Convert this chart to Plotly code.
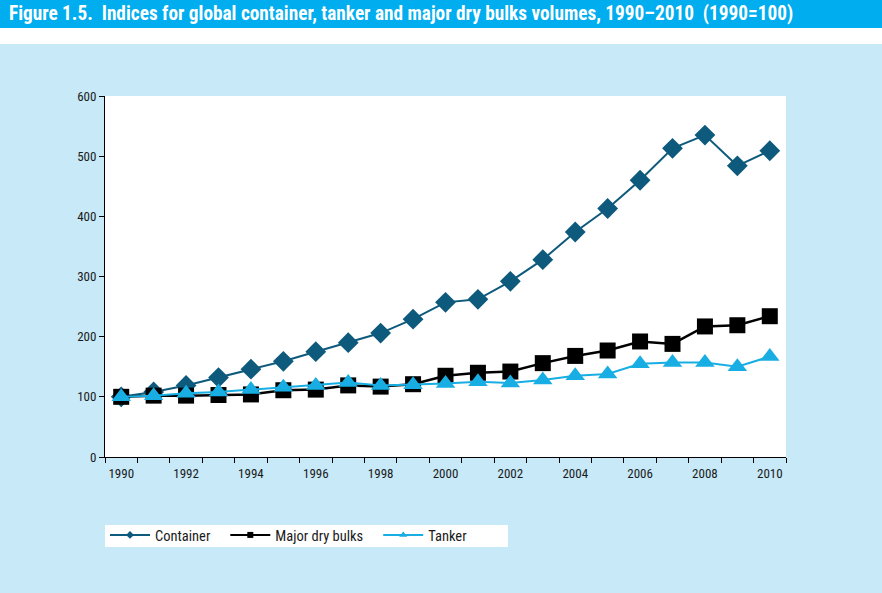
import plotly.graph_objects as go

years = list(range(1990, 2011))
container = [100, 108, 119, 132, 146, 159, 175, 190, 206, 229, 257, 262, 292, 328, 374, 413, 460, 513, 535, 484, 509]
dry_bulks = [100, 102, 102, 103, 104, 111, 112, 119, 117, 121, 135, 140, 142, 156, 168, 177, 192, 188, 217, 219, 234]
tanker = [100, 102, 106, 108, 112, 116, 119, 124, 119, 120, 122, 125, 123, 128, 135, 138, 155, 157, 157, 150, 167]
tick_years = list(range(1990, 2011, 2))
title_text = "Figure 1.5.  Indices for global container, tanker and major dry bulks volumes, 1990–2010  (1990=100)"

W, H = 882, 593
L, R, T, B = 105, 96, 96, 136
pw, ph = W - L - R, H - T - B

def px_x(p):
    return (p - L) / pw

def px_y(p):
    return (H - B - p) / ph

FONT = "Liberation Sans Narrow, Arial Narrow, Roboto Condensed, sans-serif"
C_CONT, C_BULK, C_TANK = "#0E5A7C", "#000000", "#19AEE3"

fig = go.Figure()
series = [
    ("Container", container, C_CONT, "diamond", 16, 2, 6),
    ("Major dry bulks", dry_bulks, C_BULK, "square", 16, 2.5, 6),
    ("Tanker", tanker, C_TANK, "triangle-up", 17, 2, 7),
]
for name, vals, col, sym, sz, lw, lsz in series:
    fig.add_trace(go.Scatter(x=years, y=vals, name=name, mode="lines+markers", showlegend=False,
                             line=dict(color=col, width=lw),
                             marker=dict(symbol=sym, size=sz, color=col)))
for name, vals, col, sym, sz, lw, lsz in series:
    fig.add_trace(go.Scatter(x=[None], y=[None], name=name + "   ", mode="lines+markers", showlegend=True,
                             line=dict(color=col, width=2),
                             marker=dict(symbol=sym, size=lsz, color=col)))

fig.update_layout(
    width=W, height=H,
    margin=dict(l=L, r=R, t=T, b=B),
    paper_bgcolor="#C8E9F8",
    plot_bgcolor="#FFFFFF",
    font=dict(family=FONT, size=13, color="#1a1a1a"),
    showlegend=True,
    legend=dict(orientation="h", x=0, xanchor="left", y=px_y(519), yanchor="top",
                bgcolor="rgba(0,0,0,0)", font=dict(family=FONT, size=14.5, color="#1a1a1a"),
                itemwidth=40, tracegroupgap=0),
    shapes=[
        dict(type="rect", xref="paper", yref="paper", x0=px_x(0), x1=px_x(W), y0=px_y(28), y1=px_y(0),
             fillcolor="#00ADEF", line=dict(width=0), layer="below"),
        dict(type="rect", xref="paper", yref="paper", x0=px_x(0), x1=px_x(W), y0=px_y(44), y1=px_y(28),
             fillcolor="#FFFFFF", line=dict(width=0), layer="below"),
        dict(type="rect", xref="paper", yref="paper", x0=px_x(105), x1=px_x(508), y0=px_y(547), y1=px_y(525),
             fillcolor="#FFFFFF", line=dict(width=0), layer="below"),
    ],
    annotations=[
        dict(text="<b>" + title_text + "</b>", xref="paper", yref="paper", x=px_x(7), y=px_y(14),
             xanchor="left", yanchor="middle", showarrow=False,
             font=dict(family=FONT, size=19.3, color="#FFFFFF")),
    ],
)
fig.update_xaxes(range=[1989.5, 2010.5], tickvals=tick_years, ticktext=[str(y) for y in tick_years],
                 ticks="", showgrid=False, zeroline=False, showline=True, linecolor="#000000", linewidth=1,
                 tickfont=dict(size=13), ticklabelstandoff=4,
                 minor=dict(ticks="outside", tick0=1989.5, dtick=1, ticklen=5, tickcolor="#000000", showgrid=False))
fig.update_yaxes(range=[0, 600], dtick=100, ticks="outside", ticklen=5, tickcolor="#000000",
                 showgrid=False, zeroline=False, showline=True, linecolor="#000000", linewidth=1,
                 tickfont=dict(size=13))

fig.write_html("out.html", config={"displayModeBar": False},
               post_script="document.body.style.margin='0';")
